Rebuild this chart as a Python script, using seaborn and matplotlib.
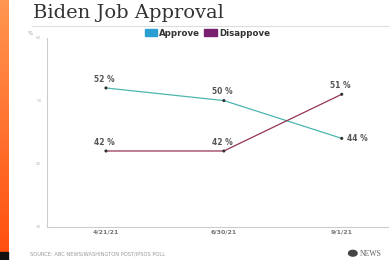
import numpy as np
import pandas as pd
import matplotlib.pyplot as plt
import seaborn as sns
from matplotlib.patches import Rectangle, Ellipse
from matplotlib.lines import Line2D

# donnees
dates = ['4/21/21', '6/30/21', '9/1/21']
approve = [52, 50, 44]
disapprove = [42, 42, 51]
series = ['Approve', 'Disappove']
yticks = [30, 40, 50, 60]

df = pd.DataFrame({
    'pos': list(range(len(dates))) * 2,
    'date': dates * 2,
    'value': approve + disapprove,
    'serie': [series[0]] * len(dates) + [series[1]] * len(dates),
})

sns.set_theme(style='white')
plt.rcParams['font.family'] = ['DejaVu Sans']

fig = plt.figure(figsize=(3.89, 2.60), dpi=100)
ax = fig.add_axes([0.1208, 0.1285, 0.879, 0.727])

line_colors = {'Approve': '#4db6ae', 'Disappove': '#943556'}
sns.lineplot(data=df, x='pos', y='value', hue='serie', palette=line_colors,
             linewidth=0.9, sort=False, legend=False, ax=ax)
sns.scatterplot(data=df, x='pos', y='value', color='#333333', s=5,
                edgecolor='none', legend=False, ax=ax, zorder=5)

# etiquettes des valeurs
lab = dict(fontsize=5.5, color='#555555', fontweight='bold')
for i, v in enumerate(approve):
    if i == 2:
        ax.annotate(f'{v} %', (i, v), xytext=(4, 0), textcoords='offset points',
                    ha='left', va='center', **lab)
    else:
        ax.annotate(f'{v} %', (i, v), xytext=(-1, 3), textcoords='offset points',
                    ha='center', va='bottom', **lab)
for i, v in enumerate(disapprove):
    ax.annotate(f'{v} %', (i, v), xytext=(-1, 3), textcoords='offset points',
                ha='center', va='bottom', **lab)

ax.set_xlim(-0.5, 2.4)
ax.set_ylim(30, 60)
ax.set_xticks(range(len(dates)))
ax.set_xticklabels(dates, fontsize=4.5, color='#777777', fontweight='bold')
ax.set_yticks(yticks)
ax.set_yticklabels([str(t) for t in yticks], fontsize=3, color='#bbbbbb')
ax.tick_params(axis='y', length=2, width=0.5, color='#cccccc', pad=2)
ax.tick_params(axis='x', length=0, pad=2)
ax.set_xlabel('')
ax.set_ylabel('')
for s in ['top', 'right']:
    ax.spines[s].set_visible(False)
for s in ['left', 'bottom']:
    ax.spines[s].set_color('#cccccc')
    ax.spines[s].set_linewidth(0.8)
ax.text(-0.04, 1.01, '%', transform=ax.transAxes, fontsize=4, color='#999999',
        ha='right', va='bottom')

# legende
handles = [Rectangle((0, 0), 1, 1, color='#2b9fd4'), Rectangle((0, 0), 1, 1, color='#7a2070')]
leg = fig.legend(handles, series, loc='center', bbox_to_anchor=(0.533, 0.872), ncol=2,
                 frameon=False, fontsize=6.2, handlelength=1.4, handleheight=0.9,
                 handletextpad=0.3, columnspacing=0.5, borderaxespad=0)
for t in leg.get_texts():
    t.set_fontweight('bold')
    t.set_color('#333333')

# titre et filet
fig.text(0.084, 0.93, 'Biden Job Approval', fontsize=14, family='DejaVu Serif',
         color='#333333', ha='left', va='baseline')
fig.add_artist(Line2D([0.082, 1.0], [0.9, 0.9], color='#dddddd', linewidth=0.8))

# bande orange a gauche (degrade)
band = fig.add_axes([0, 0.03, 0.021, 0.97])
grad = np.linspace(0, 1, 100).reshape(-1, 1)
band.imshow(grad, aspect='auto', cmap=sns.blend_palette(['#ff5010', '#ff9650'], as_cmap=True),
            origin='lower')
band.set_axis_off()
fig.add_artist(Rectangle((0, 0), 0.021, 0.03, color='#111111', transform=fig.transFigure))

# source et logo
fig.text(0.078, 0.025, 'SOURCE: ABC NEWS/WASHINGTON POST/IPSOS POLL', fontsize=3.7,
         color='#999999', ha='left', va='center')
fig.add_artist(Ellipse((0.907, 0.026), 0.022, 0.022, color='#444444', transform=fig.transFigure))
fig.text(0.925, 0.025, 'NEWS', fontsize=5.5, family='Liberation Serif', color='#666666',
         ha='left', va='center')

fig.savefig('out.png', dpi=100)
